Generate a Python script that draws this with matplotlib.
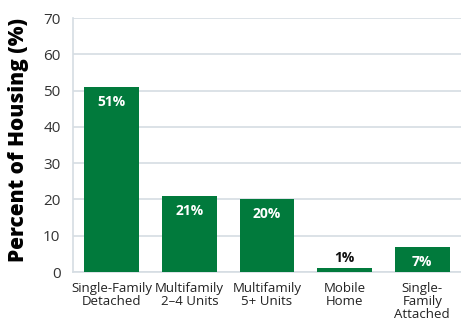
import matplotlib
matplotlib.use("Agg")
import matplotlib.pyplot as plt

categories = ["Single-Family\nDetached", "Multifamily\n2\u20134 Units", "Multifamily\n5+ Units",
              "Mobile\nHome", "Single-\nFamily\nAttached"]
values = [51, 21, 20, 1, 7]
yticks = [0, 10, 20, 30, 40, 50, 60, 70]

green = "#017a3c"
grid_col = "#d5dde3"

plt.rcParams['font.family'] = ['Open Sans', 'DejaVu Sans']

fig = plt.figure(figsize=(4.61, 3.25), dpi=100)
ax = fig.add_axes([73 / 461, 53 / 325, 388 / 461, 254 / 325])

x = list(range(len(values)))
ax.bar(x, values, width=0.705, color=green, zorder=3)

for xi, v in zip(x, values):
    if v >= 5:
        ax.text(xi, v - 2.2, f"{v}%", ha='center', va='top', color='white',
                fontsize=10, fontweight='bold', zorder=4)
    else:
        ax.text(xi, v + 0.8, f"{v}%", ha='center', va='bottom', color='#111111',
                fontsize=10, fontweight='bold', zorder=4)

ax.set_xlim(-0.5, 4.5)
ax.set_ylim(0, 70)
ax.set_yticks(yticks)
ax.yaxis.grid(True, color=grid_col, linewidth=1.2, zorder=0)
ax.set_xticks(x)
ax.set_xticklabels(categories, fontsize=9.5, color='#222222', linespacing=1.0)
ax.tick_params(axis='y', labelsize=11, labelcolor='#333333', length=0, pad=9)
ax.tick_params(axis='x', length=0, pad=7)

for s in ['top', 'right']:
    ax.spines[s].set_visible(False)
for s in ['left', 'bottom']:
    ax.spines[s].set_color(grid_col)
    ax.spines[s].set_linewidth(1.2)

fig.text(19 / 461, 1 - 140 / 325, "Percent of Housing (%)", rotation=90, ha='center', va='center',
         fontsize=15, fontweight='heavy', color='black')

fig.savefig("out.png", dpi=100)
